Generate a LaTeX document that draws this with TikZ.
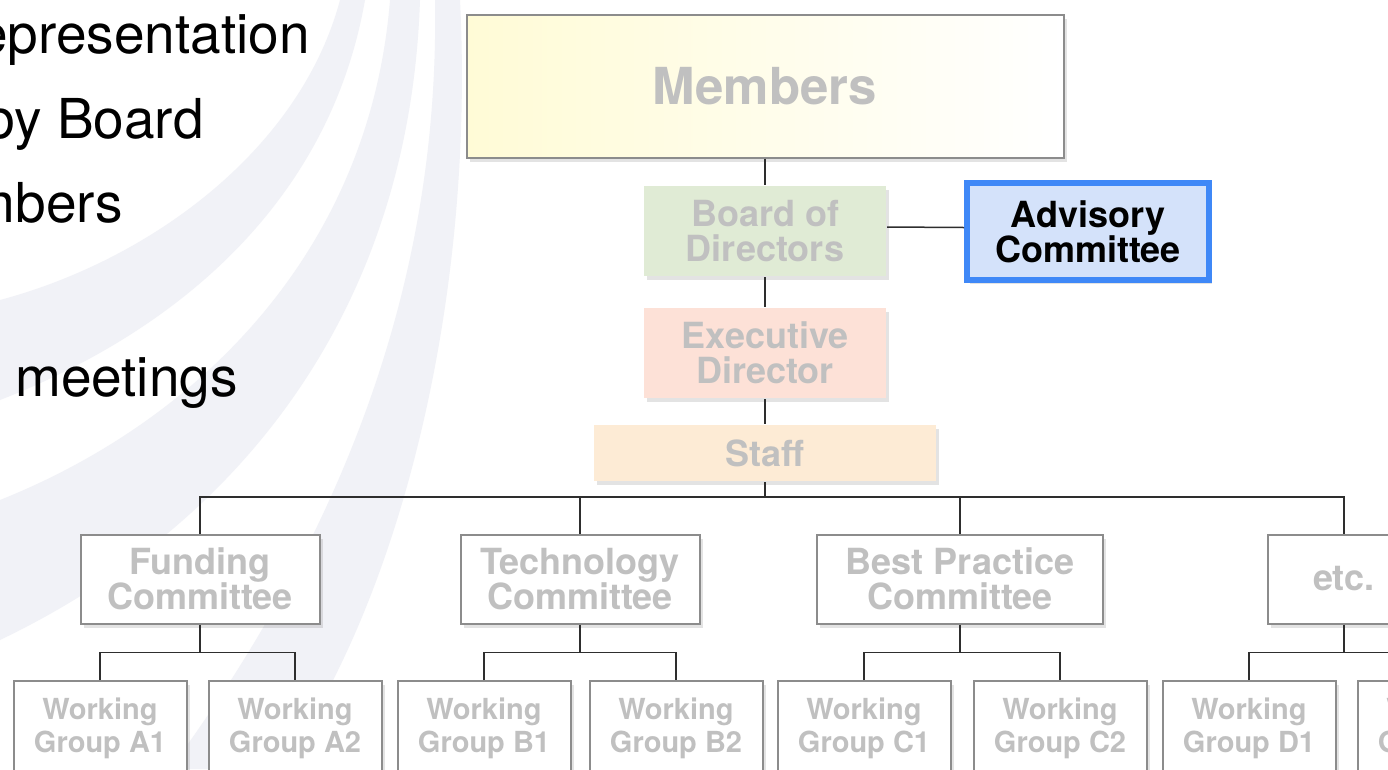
\documentclass[tikz,border=0pt]{standalone}
\usepackage{fontspec}
\setmainfont{TeX Gyre Heros}
\usetikzlibrary{shadows}

\definecolor{textgray}{HTML}{C0C0C0}
\definecolor{boxgray}{HTML}{8C8C8C}
\definecolor{linkgray}{HTML}{2E2E2E}
\definecolor{swoosh}{HTML}{F1F2F7}
\definecolor{memberyellow}{HTML}{FFFBD6}
\definecolor{boardgreen}{HTML}{E0EBD5}
\definecolor{execpink}{HTML}{FDE1D7}
\definecolor{stafftan}{HTML}{FDEBD5}
\definecolor{advblue}{HTML}{3F88F7}
\definecolor{advfill}{HTML}{D4E2FA}

\tikzset{
	shade/.style={drop shadow={opacity=0.22, shadow xshift=3pt, shadow yshift=-4pt}},
	unit/.style={draw=boxgray, line width=2pt, fill=white, text=textgray, align=center,
		inner sep=0pt, font=\bfseries\fontsize{36}{35}\selectfont, shade},
	group/.style={unit, minimum width=173pt, minimum height=94pt,
		font=\bfseries\fontsize{29}{33}\selectfont},
	link/.style={draw=linkgray, line width=1.5pt},
	slide/.style={inner sep=0pt, anchor=base east, font=\fontsize{55}{60}\selectfont}
}

\begin{document}
\begin{tikzpicture}[x=1pt, y=-1pt]
	\useasboundingbox (0,0) rectangle (1388,769);
	\clip (0,0) rectangle (1388,769);
	\fill[white] (0,0) rectangle (1388,769);

	% background swooshes
	\fill[swoosh] (340,0) .. controls (300,150) and (150,260) .. (0,300)
		-- (0,400) .. controls (180,330) and (330,200) .. (365,0) -- cycle;
	\fill[swoosh] (390,0) .. controls (370,250) and (200,420) .. (0,500)
		-- (0,640) .. controls (250,520) and (410,300) .. (420,0) -- cycle;
	\fill[swoosh] (435,0) .. controls (440,300) and (330,550) .. (170,769)
		-- (280,769) .. controls (400,600) and (475,300) .. (460,0) -- cycle;

	% slide text
	\node[slide] (repr) at (310,53) {epresentation};
	\node[slide] (byboard) at (204,138) {by Board};
	\node[slide] (mbers) at (123,222) {mbers};
	\node[slide, anchor=base west] (meet) at (15,396) {meetings};

	% top of the chart
	\node[unit, left color=memberyellow, right color=white, minimum width=597pt, minimum height=143pt,
		font=\bfseries\fontsize{51}{51}\selectfont] (members) at (765,86) {Members};
	\node[unit, draw=none, fill=boardgreen, minimum width=242pt, minimum height=90pt,
		drop shadow={opacity=0}] (board) at (765,231) {Board of\\Directors};
	\node[unit, draw=advblue, line width=6pt, fill=advfill, text=black,
		minimum width=242pt, minimum height=97pt] (advisory) at (1088,231.5) {Advisory\\Committee};
	\node[unit, draw=none, fill=execpink, minimum width=242pt, minimum height=90pt] (exec) at (765,353) {Executive\\Director};
	\node[unit, draw=none, fill=stafftan, minimum width=342pt, minimum height=56pt] (staff) at (765,453) {Staff};

	% committees
	\node[unit, minimum width=239pt, minimum height=89pt] (funding) at (200,579) {Funding\\Committee};
	\node[unit, minimum width=239pt, minimum height=89pt] (tech) at (580,579) {Technology\\Committee};
	\node[unit, minimum width=286pt, minimum height=89pt] (best) at (960,579) {Best Practice\\Committee};
	\node[unit, minimum width=152pt, minimum height=89pt] (etc) at (1344,579) {etc.};

	% working groups
	\node[group] (wgA1) at (100,728) {Working\\Group A1};
	\node[group] (wgA2) at (295,728) {Working\\Group A2};
	\node[group] (wgB1) at (484,728) {Working\\Group B1};
	\node[group] (wgB2) at (676,728) {Working\\Group B2};
	\node[group] (wgC1) at (864,728) {Working\\Group C1};
	\node[group] (wgC2) at (1060,728) {Working\\Group C2};
	\node[group] (wgD1) at (1249,728) {Working\\Group D1};
	\node[group] (wgD2) at (1444,728) {Working\\Group D2};

	% connectors
	\draw[link] (members) -- (board) -- (exec) -- (staff);
	\draw[link] ([yshift=4pt]board.east) -- ([yshift=4pt]advisory.west);
	\draw[link] (staff.south) -- ++(0,15) coordinate (bus);
	\draw[link] (funding.north) |- (bus) -| (etc.north);
	\draw[link] (tech.north) -- (tech.north |- bus);
	\draw[link] (best.north) -- (best.north |- bus);

	\draw[link] (funding.south) -- ++(0,28) coordinate (abus);
	\draw[link] (wgA1.north) |- (abus) -| (wgA2.north);
	\draw[link] (tech.south) -- ++(0,28) coordinate (bbus);
	\draw[link] (wgB1.north) |- (bbus) -| (wgB2.north);
	\draw[link] (best.south) -- ++(0,28) coordinate (cbus);
	\draw[link] (wgC1.north) |- (cbus) -| (wgC2.north);
	\draw[link] (etc.south) -- ++(0,28) coordinate (dbus);
	\draw[link] (wgD1.north) |- (dbus) -| (wgD2.north);
\end{tikzpicture}
\end{document}
